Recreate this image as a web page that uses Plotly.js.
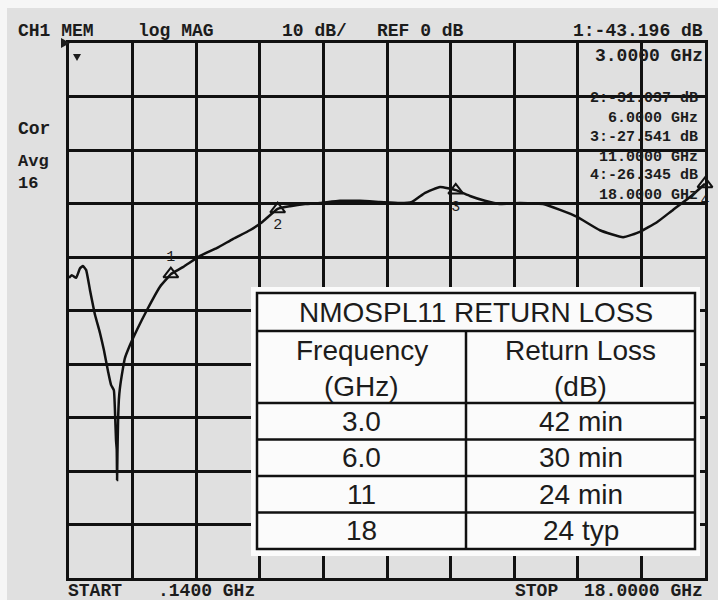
<!DOCTYPE html>
<html><head><meta charset="utf-8">
<script src="https://cdn.plot.ly/plotly-3.0.1.min.js"></script>
<style>html,body{margin:0;padding:0;background:#e0e0e0;}#chart{width:718px;height:600px;}</style>
</head><body><div id="chart"></div>
<script>
// ---- trace data ----
const freqGHz = [0.14,0.22,0.34,0.45,0.53,0.62,0.73,0.87,1.01,1.12,1.24,1.32,1.40,1.43,1.46,1.48,1.49,1.50,1.52,1.54,1.57,1.65,1.71,1.85,2.05,2.33,2.70,2.92,3.00,3.34,3.82,4.30,4.75,5.22,5.56,6.00,6.35,6.77,7.19,7.75,8.31,8.87,9.43,9.77,10.14,10.56,11.00,11.40,11.82,12.24,12.80,13.45,13.93,14.41,15.05,15.70,16.17,16.65,17.10,17.58,18.00];
const returnDb = [-43.9,-43.4,-43.9,-42.1,-41.7,-42.4,-46.2,-50.8,-54.2,-57.4,-61.5,-63.9,-64.9,-68.6,-74.2,-76.0,-81.7,-77.0,-70.0,-66.7,-64.5,-61.0,-58.9,-56.5,-53.6,-49.9,-45.5,-43.8,-43.2,-41.9,-39.8,-38.3,-36.6,-35.0,-33.5,-31.0,-30.5,-30.1,-29.9,-29.5,-29.5,-29.7,-29.9,-29.7,-28.0,-26.9,-27.5,-28.6,-29.5,-30.1,-29.9,-30.1,-31.2,-32.5,-35.0,-36.3,-35.3,-33.5,-31.2,-28.8,-26.3];
// ---- markers ----
const markerNum = ["1","2","3","4"];
const markerFreqGHz = [3, 6, 11, 18];
const markerDb = [-43.196, -31.037, -27.541, -26.345];
const markerTextPos = ["top center","bottom center","bottom center","bottom center"];
// ---- spec table ----
const tableTitle = "NMOSPL11 RETURN LOSS";
const tableHeadTop = ["Frequency", "Return Loss"];
const tableHeadUnit = ["(GHz)", "(dB)"];
const specFreq = ["3.0", "6.0", "11", "18"];
const specLoss = ["42 min", "30 min", "24 min", "24 typ"];
// ---- instrument settings ----
const startGHz = 0.14, stopGHz = 18;
const refDb = 0, dbPerDiv = 10, nDiv = 10;

// pixel -> paper helpers (plot area 69..705 x 43..578)
const L = 69, T = 43, W = 636, H = 535;
const px = x => (x - L) / W;
const py = y => 1 - (y - T) / H;
const MONO = "Liberation Mono, DejaVu Sans Mono, monospace";
const SANS = "Liberation Sans, Arial, sans-serif";
const ink = "#1c1c1c";

function txt(text, x, y, anchor, size, family) {
  return {text: text, x: px(x), y: py(y), xref: "paper", yref: "paper",
    xanchor: anchor || "left", yanchor: "middle", showarrow: false, align: anchor || "left",
    font: {family: family || MONO, size: size || 18, color: ink, weight: 700}};
}

const annotations = [];
// header row
annotations.push(txt("CH1 MEM", 16, 31));
annotations.push(txt("log MAG", 136, 31));
annotations.push(txt(dbPerDiv + " dB/", 280, 31));
annotations.push(txt("REF " + refDb + " dB", 375, 31));
// marker readouts
annotations.push(txt(markerNum[0] + ":" + markerDb[0].toFixed(3) + " dB", 705, 31, "right"));
annotations.push(txt(markerFreqGHz[0].toFixed(4) + " GHz", 705, 56, "right"));
const readCenterY = [null, 108, 147, 185];
for (let i = 1; i < markerNum.length; i++) {
  annotations.push(txt(markerNum[i] + ":" + markerDb[i].toFixed(3) + " dB<br>" + markerFreqGHz[i].toFixed(4) + " GHz",
    700, readCenterY[i], "right", 15));
}
// left side status
annotations.push(txt("Cor", 16, 129));
annotations.push(txt("Avg<br>16", 16, 172, "left", 17));
// footer
annotations.push(txt("START", 66, 591));
annotations.push(txt(startGHz.toFixed(4).replace(/^0/, "") + " GHz", 156, 591));
annotations.push(txt("STOP", 513, 591));
annotations.push(txt(stopGHz.toFixed(4) + " GHz", 705, 591, "right"));

// ---- table geometry ----
const tL = 257, tR = 695, tTop = 293, tBot = 549, colX = 466;
const titleBot = 331, headBot = 403;
const rowH = (tBot - headBot) / specFreq.length;
const c1 = (tL + colX) / 2, c2 = (colX + tR) / 2;
const shapes = [];
const lineS = {color: "#111", width: 2.5};
const P = (x, y) => px(x) + "," + py(y);
// ref-level pointer and small arrow
shapes.push({type: "path", xref: "paper", yref: "paper", path: "M" + P(61, 38) + " L" + P(70, 43) + " L" + P(61, 48) + " Z", fillcolor: ink, line: {width: 0}, layer: "above"});
shapes.push({type: "path", xref: "paper", yref: "paper", path: "M" + P(73, 54) + " L" + P(81, 54) + " L" + P(77, 61) + " Z", fillcolor: ink, line: {width: 0}, layer: "above"});
// white backing
shapes.push({type: "rect", xref: "paper", yref: "paper", x0: px(251), x1: px(700), y0: py(556), y1: py(287), fillcolor: "#fbfbfb", line: {width: 0}, layer: "above"});
shapes.push({type: "rect", xref: "paper", yref: "paper", x0: px(tL), x1: px(tR), y0: py(tBot), y1: py(tTop), line: lineS, layer: "above"});
shapes.push({type: "line", xref: "paper", yref: "paper", x0: px(tL), x1: px(tR), y0: py(titleBot), y1: py(titleBot), line: lineS, layer: "above"});
shapes.push({type: "line", xref: "paper", yref: "paper", x0: px(colX), x1: px(colX), y0: py(titleBot), y1: py(tBot), line: lineS, layer: "above"});
shapes.push({type: "line", xref: "paper", yref: "paper", x0: px(tL), x1: px(tR), y0: py(headBot), y1: py(headBot), line: lineS, layer: "above"});
for (let i = 1; i < specFreq.length; i++) {
  const yy = headBot + i * rowH;
  shapes.push({type: "line", xref: "paper", yref: "paper", x0: px(tL), x1: px(tR), y0: py(yy), y1: py(yy), line: lineS, layer: "above"});
}
// light strips at image top/left edges
shapes.push({type: "rect", xref: "paper", yref: "paper", x0: px(0), x1: px(718), y0: py(8), y1: py(0), fillcolor: "#f6f6f6", line: {width: 0}, layer: "below"});
shapes.push({type: "rect", xref: "paper", yref: "paper", x0: px(0), x1: px(7), y0: py(600), y1: py(0), fillcolor: "#f6f6f6", line: {width: 0}, layer: "below"});

function ttxt(text, x, y) {
  return {text: text, x: px(x), y: py(y), xref: "paper", yref: "paper", xanchor: "center", yanchor: "middle",
    showarrow: false, font: {family: SANS, size: 28, color: ink}};
}
annotations.push(ttxt(tableTitle, (tL + tR) / 2, 312));
annotations.push(ttxt(tableHeadTop[0], c1, 350));
annotations.push(ttxt(tableHeadUnit[0], c1, 386));
annotations.push(ttxt(tableHeadTop[1], c2, 350));
annotations.push(ttxt(tableHeadUnit[1], c2, 386));
specFreq.forEach((f, i) => {
  const yc = headBot + (i + 0.5) * rowH;
  annotations.push(ttxt(f, c1, yc));
  annotations.push(ttxt(specLoss[i], c2, yc));
});

const traces = [
  {x: freqGHz, y: returnDb, type: "scatter", mode: "lines", line: {color: "#111", width: 2.5, shape: "spline", smoothing: 0.4}, hoverinfo: "skip"},
  {x: markerFreqGHz, y: markerDb, type: "scatter", mode: "markers+text", text: markerNum, textposition: markerTextPos,
   marker: {symbol: "triangle-up-open", size: 13, color: "#111", line: {width: 2, color: "#111"}},
   textfont: {family: MONO, size: 15, color: ink}, cliponaxis: false, hoverinfo: "skip"}
];

const layout = {
  width: 718, height: 600,
  margin: {l: L, r: 718 - 705, t: T, b: 600 - 578},
  paper_bgcolor: "#e0e0e0", plot_bgcolor: "#e0e0e0",
  showlegend: false,
  xaxis: {range: [startGHz, stopGHz], tick0: startGHz, dtick: (stopGHz - startGHz) / nDiv, showticklabels: false, ticks: "",
    showgrid: true, gridcolor: "#111", gridwidth: 3, zeroline: false, showline: true, linecolor: "#111", linewidth: 3, mirror: true, fixedrange: true},
  yaxis: {range: [refDb - nDiv * dbPerDiv, refDb], tick0: refDb, dtick: dbPerDiv, showticklabels: false, ticks: "",
    showgrid: true, gridcolor: "#111", gridwidth: 3, zeroline: false, showline: true, linecolor: "#111", linewidth: 3, mirror: true, fixedrange: true},
  shapes: shapes,
  annotations: annotations
};
Plotly.newPlot("chart", traces, layout, {displayModeBar: false, staticPlot: true});
</script></body></html>
